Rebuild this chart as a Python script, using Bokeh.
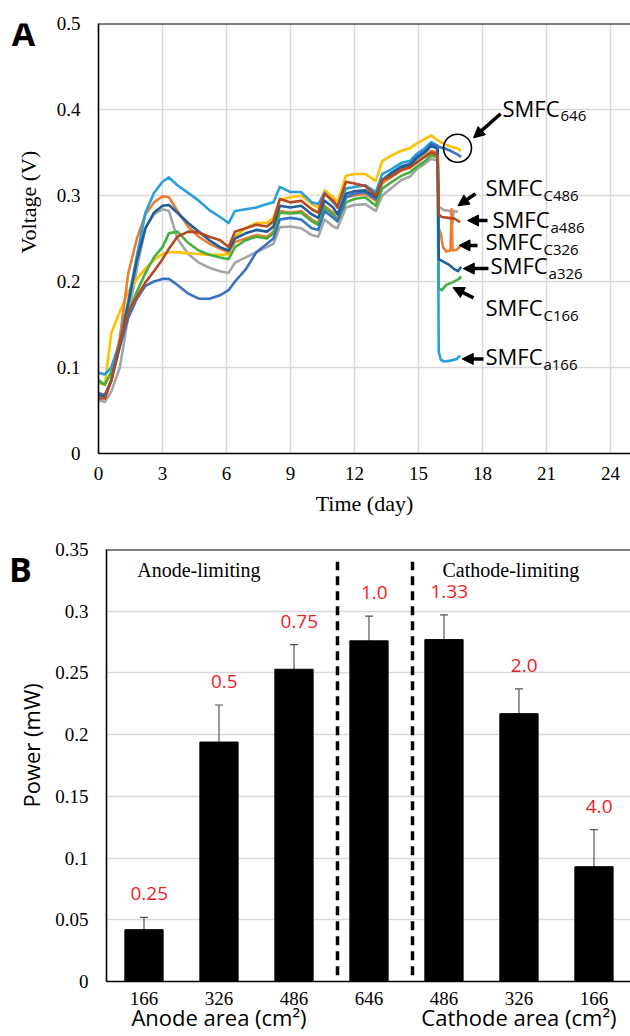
import math
from bokeh.plotting import figure
from bokeh.models import (Label, Arrow, NormalHead, TeeHead, Whisker, ColumnDataSource,
                          FixedTicker, LinearAxis, Span, Range1d, NumeralTickFormatter)
from bokeh.layouts import column, row
from bokeh.core.properties import value
from bokeh.embed import file_html
from bokeh.resources import INLINE

# ---------------- Panel A data (voltage vs time) ----------------
days_main = [0.0, 0.3, 0.6, 1.0, 1.4, 1.8, 2.2, 2.6, 3.0, 3.3, 3.7, 4.2, 4.7, 5.2, 5.7,
             6.1, 6.4, 6.9, 7.4, 7.9, 8.2, 8.5, 9.0, 9.5, 10.0, 10.3, 10.6, 11.0, 11.2, 11.6,
             12.0, 12.5, 13.0, 13.3, 13.7, 14.2, 14.6, 14.9, 15.3, 15.6, 15.9]

v_a166 = [0.094, 0.092, 0.100, 0.130, 0.178, 0.230, 0.280, 0.303, 0.316, 0.321, 0.312, 0.303, 0.294, 0.283, 0.275,
          0.268, 0.282, 0.284, 0.286, 0.290, 0.292, 0.310, 0.304, 0.304, 0.292, 0.290, 0.303, 0.292, 0.288, 0.308,
          0.310, 0.312, 0.304, 0.325, 0.330, 0.338, 0.340, 0.348, 0.355, 0.362, 0.358]
t_a166_days = [15.95, 16.05, 16.2, 16.5, 16.8, 16.95]
t_a166 = [0.118, 0.109, 0.107, 0.108, 0.110, 0.114]

v_c326 = [0.070, 0.068, 0.085, 0.135, 0.210, 0.250, 0.278, 0.292, 0.299, 0.298, 0.282, 0.264, 0.252, 0.244, 0.238,
          0.234, 0.246, 0.250, 0.254, 0.252, 0.258, 0.282, 0.280, 0.282, 0.272, 0.268, 0.288, 0.280, 0.272, 0.298,
          0.300, 0.302, 0.294, 0.314, 0.321, 0.329, 0.332, 0.339, 0.346, 0.352, 0.350]
t_c326_days = [15.95, 16.05, 16.15, 16.3, 16.5, 16.55, 16.6, 16.8, 16.95]
t_c326 = [0.262, 0.255, 0.240, 0.235, 0.236, 0.284, 0.236, 0.237, 0.241]

v_c486 = [0.062, 0.060, 0.072, 0.100, 0.160, 0.215, 0.262, 0.278, 0.284, 0.282, 0.250, 0.232, 0.222, 0.216, 0.212,
          0.210, 0.222, 0.228, 0.234, 0.240, 0.244, 0.263, 0.264, 0.262, 0.254, 0.252, 0.272, 0.264, 0.262, 0.286,
          0.289, 0.290, 0.282, 0.300, 0.308, 0.318, 0.322, 0.330, 0.337, 0.343, 0.340]
t_c486_days = [15.95, 16.2, 16.5, 16.6, 16.65, 16.85]
t_c486 = [0.287, 0.283, 0.282, 0.268, 0.282, 0.281]

v_646_1 = [0.082, 0.080, 0.140, 0.165, 0.188, 0.203, 0.215, 0.225, 0.232, 0.234, 0.234, 0.233, 0.232, 0.231, 0.231,
           0.232, 0.252, 0.262, 0.268, 0.268, 0.274, 0.295, 0.298, 0.300, 0.290, 0.286, 0.306, 0.298, 0.292, 0.323,
           0.325, 0.325, 0.317, 0.340, 0.346, 0.352, 0.355, 0.360, 0.366, 0.370, 0.364]
t_646_1_days = [16.2, 16.5, 16.8, 17.0]
t_646_1 = [0.360, 0.357, 0.355, 0.352]

v_646_2 = [0.070, 0.068, 0.085, 0.125, 0.158, 0.180, 0.195, 0.200, 0.203, 0.203, 0.196, 0.186, 0.180, 0.180, 0.184,
           0.190, 0.200, 0.214, 0.234, 0.244, 0.250, 0.272, 0.274, 0.272, 0.262, 0.260, 0.282, 0.274, 0.270, 0.298,
           0.302, 0.304, 0.296, 0.318, 0.326, 0.334, 0.337, 0.345, 0.352, 0.360, 0.357]
t_646_2_days = [16.2, 16.5, 16.8, 17.0]
t_646_2 = [0.355, 0.352, 0.348, 0.345]

v_c166 = [0.085, 0.080, 0.095, 0.125, 0.163, 0.188, 0.210, 0.228, 0.240, 0.256, 0.258, 0.245, 0.236, 0.231, 0.228,
          0.226, 0.240, 0.248, 0.252, 0.250, 0.256, 0.280, 0.279, 0.280, 0.270, 0.266, 0.286, 0.278, 0.270, 0.292,
          0.296, 0.298, 0.288, 0.308, 0.315, 0.323, 0.327, 0.333, 0.340, 0.347, 0.344]
t_c166_days = [15.95, 16.1, 16.3, 16.6, 16.9, 17.0]
t_c166 = [0.192, 0.190, 0.196, 0.199, 0.203, 0.206]

v_a326 = [0.068, 0.066, 0.085, 0.125, 0.175, 0.225, 0.262, 0.280, 0.288, 0.289, 0.280, 0.268, 0.258, 0.248, 0.240,
          0.236, 0.250, 0.256, 0.260, 0.258, 0.264, 0.288, 0.286, 0.288, 0.278, 0.274, 0.294, 0.286, 0.278, 0.302,
          0.305, 0.306, 0.298, 0.318, 0.325, 0.333, 0.335, 0.343, 0.350, 0.358, 0.354]
t_a326_days = [15.95, 16.1, 16.4, 16.7, 16.85, 17.0]
t_a326 = [0.226, 0.224, 0.220, 0.214, 0.212, 0.217]

v_a486 = [0.064, 0.064, 0.085, 0.130, 0.165, 0.182, 0.199, 0.212, 0.226, 0.238, 0.252, 0.258, 0.257, 0.252, 0.248,
          0.240, 0.258, 0.262, 0.266, 0.264, 0.270, 0.296, 0.292, 0.294, 0.284, 0.280, 0.302, 0.294, 0.286, 0.316,
          0.314, 0.311, 0.300, 0.318, 0.322, 0.330, 0.333, 0.338, 0.345, 0.350, 0.347]
t_a486_days = [15.95, 16.1, 16.4, 16.7, 16.95]
t_a486 = [0.278, 0.275, 0.274, 0.273, 0.269]

series = [
    ("c486", v_c486, t_c486_days, t_c486, "#a5a5a5"),
    ("646_1", v_646_1, t_646_1_days, t_646_1, "#ffc000"),
    ("c326", v_c326, t_c326_days, t_c326, "#ed7d31"),
    ("c166", v_c166, t_c166_days, t_c166, "#45b03f"),
    ("a166", v_a166, t_a166_days, t_a166, "#27a0dc"),
    ("646_2", v_646_2, t_646_2_days, t_646_2, "#3a72c6"),
    ("a326", v_a326, t_a326_days, t_a326, "#1f5f9a"),
    ("a486", v_a486, t_a486_days, t_a486, "#b5491f"),
]

time_ticks = [0, 3, 6, 9, 12, 15, 18, 21, 24]
volt_ticks = [0, 0.1, 0.2, 0.3, 0.4, 0.5]

# ---------------- Panel B data (power) ----------------
area_labels = ["166", "326", "486", "646", "486", "326", "166"]
power = [0.042, 0.194, 0.253, 0.276, 0.277, 0.217, 0.093]
power_err = [0.010, 0.030, 0.020, 0.020, 0.020, 0.020, 0.030]
ratio_labels = ["0.25", "0.5", "0.75", "1.0", "1.33", "2.0", "4.0"]
power_ticks = [0, 0.05, 0.1, 0.15, 0.2, 0.25, 0.3, 0.35]

SERIF = "Liberation Serif"
SANS = "Open Sans"


def style_axis(ax, font, size, standoff):
    ax.axis_line_color = "black"
    ax.axis_line_width = 1.6
    ax.major_tick_line_color = None
    ax.minor_tick_line_color = None
    ax.major_tick_in = 0
    ax.major_tick_out = 0
    ax.major_label_text_font = font
    ax.major_label_text_font_size = size
    ax.major_label_text_color = "black"
    ax.major_label_standoff = standoff


def side_strip(w, h, items):
    """Narrow strip (pixel coordinates) holding the panel letter and the rotated axis title."""
    s = figure(width=w, height=h, x_range=Range1d(0, w), y_range=Range1d(0, h),
               x_axis_location=None, y_axis_location=None, output_backend="svg",
               toolbar_location=None, min_border=0)
    s.outline_line_color = None
    s.grid.grid_line_color = None
    s.background_fill_color = "white"
    s.border_fill_color = "white"
    for txt, x, y, font, size, style, ang in items:
        s.text(x=[x], y=[y], text=[txt], text_font=value(font), text_font_size=size,
               text_font_style=style, angle=ang, text_align="center",
               text_baseline="middle", text_color="black")
    return s


# ================= Panel A =================
pA = figure(width=580, height=520, x_range=Range1d(0, 24.94), y_range=Range1d(0, 0.5),
            output_backend="svg", toolbar_location=None,
            min_border_left=48, min_border_right=0, min_border_top=23, min_border_bottom=67)
pA.outline_line_color = None
pA.background_fill_color = "white"
pA.border_fill_color = "white"

style_axis(pA.xaxis[0], SERIF, "19px", 13)
style_axis(pA.yaxis[0], SERIF, "19px", 18)
pA.xaxis.ticker = FixedTicker(ticks=time_ticks)
pA.yaxis.ticker = FixedTicker(ticks=volt_ticks)
pA.yaxis.formatter = NumeralTickFormatter(format="0.[0]")
pA.xaxis.axis_label = "Time (day)"
pA.xaxis.axis_label_text_font = SERIF
pA.xaxis.axis_label_text_font_size = "22px"
pA.xaxis.axis_label_text_font_style = "normal"
pA.xaxis.axis_label_text_color = "black"
pA.xaxis.axis_label_standoff = 8
pA.xgrid.ticker = FixedTicker(ticks=time_ticks)
pA.ygrid.ticker = FixedTicker(ticks=volt_ticks)
pA.grid.grid_line_color = "#d9d9d9"
pA.grid.grid_line_width = 1.5

pA.add_layout(Span(location=0.5, dimension="width", line_color="black", line_width=2))

for name, vals, tdays, tvals, col in series:
    pA.line(days_main + tdays, vals + tvals, line_color=col, line_width=2.6, line_join="round")

# circle around SMFC646
pA.scatter([16.83], [0.355], marker="circle", size=28, fill_color=None,
           line_color="black", line_width=1.6)

smfc_subs = ["646", "C486", "a486", "C326", "a326", "C166", "a166"]
smfc_pos = [(18.94, 0.402), (18.14, 0.310), (18.47, 0.273), (18.14, 0.247),
            (18.38, 0.219), (18.14, 0.170), (18.14, 0.113)]
arrows = [((18.85, 0.395), (17.58, 0.367)), ((17.67, 0.302), (16.85, 0.288)),
          ((18.24, 0.271), (17.30, 0.271)), ((17.77, 0.242), (16.90, 0.242)),
          ((18.28, 0.215), (17.10, 0.215)), ((17.58, 0.181), (16.62, 0.193)),
          ((18.05, 0.110), (17.05, 0.110))]
for sub, (x, y) in zip(smfc_subs, smfc_pos):
    pA.add_layout(Label(x=x, y=y, text="SMFC", text_font=SANS, text_font_size="22px",
                        text_align="left", text_baseline="middle", text_color="black"))
    pA.add_layout(Label(x=x, y=y, x_offset=58, y_offset=-8, text=sub, text_font=SANS,
                        text_font_size="15px", text_align="left", text_baseline="middle",
                        text_color="black"))
for (xs, ys), (xe, ye) in arrows:
    pA.add_layout(Arrow(end=NormalHead(size=11, fill_color="black", line_color="black", line_width=1),
                        x_start=xs, y_start=ys, x_end=xe, y_end=ye,
                        line_color="black", line_width=3.5))

stripA = side_strip(50, 520, [
    ("A", 23, 508, SANS, "34px", "bold", 0),
    ("Voltage (V)", 28, 304, SERIF, "22px", "normal", math.pi / 2),
])

# ================= Panel B =================
pB = figure(width=580, height=516, x_range=Range1d(-0.5, 6.487), y_range=Range1d(0, 0.35),
            output_backend="svg", toolbar_location=None,
            min_border_left=56, min_border_right=0, min_border_top=29, min_border_bottom=55)
pB.outline_line_color = None
pB.background_fill_color = "white"
pB.border_fill_color = "white"
xpos = list(range(len(power)))

style_axis(pB.xaxis[0], SERIF, "19px", 10)
style_axis(pB.yaxis[0], SERIF, "19px", 18)
pB.xaxis.ticker = FixedTicker(ticks=xpos)
pB.xaxis.major_label_overrides = {i: lab for i, lab in zip(xpos, area_labels)}
pB.yaxis.ticker = FixedTicker(ticks=power_ticks)
pB.yaxis.formatter = NumeralTickFormatter(format="0.[00]")
pB.xgrid.grid_line_color = None
pB.ygrid.ticker = FixedTicker(ticks=power_ticks)
pB.ygrid.grid_line_color = "#d9d9d9"
pB.ygrid.grid_line_width = 1.5

area_axis = LinearAxis(ticker=FixedTicker(ticks=[1, 5]),
                       major_label_overrides={1: "Anode area (cm²)", 5: "Cathode area (cm²)"})
area_axis.axis_line_color = None
area_axis.major_tick_line_color = None
area_axis.minor_tick_line_color = None
area_axis.major_tick_in = 0
area_axis.major_tick_out = 0
area_axis.major_label_standoff = -6
area_axis.major_label_text_font = SANS
area_axis.major_label_text_font_size = "22px"
area_axis.major_label_text_color = "black"
pB.add_layout(area_axis, "below")

pB.add_layout(Span(location=0.35, dimension="width", line_color="black", line_width=2))

pB.vbar(x=xpos, top=power, width=0.51, fill_color="black", line_color="black")

err_src = ColumnDataSource(dict(
    x=xpos,
    upper=[p + e for p, e in zip(power, power_err)],
    lower=[p - e for p, e in zip(power, power_err)],
))
pB.add_layout(Whisker(source=err_src, base="x", upper="upper", lower="lower",
                      line_color="#555555", line_width=1.2,
                      upper_head=TeeHead(size=8, line_color="#555555", line_width=1.2),
                      lower_head=TeeHead(size=8, line_color="#555555", line_width=1.2)))

pB.text(x=[i + 0.07 for i in xpos],
        y=[p + e + 0.019 for p, e in zip(power, power_err)],
        text=ratio_labels, text_font=value(SANS), text_font_size="19px",
        text_color="#ee1c25", text_align="center", text_baseline="middle")

for xd in (2.58, 3.58):
    pB.add_layout(Arrow(end=None, x_start=xd, y_start=-0.007, x_end=xd, y_end=0.34,
                        line_color="black", line_width=3.5, line_dash="9 6"))

pB.add_layout(Label(x=-0.09, y=0.333, text="Anode-limiting", text_font=SERIF,
                    text_font_size="20px", text_align="left", text_baseline="middle",
                    text_color="black"))
pB.add_layout(Label(x=3.98, y=0.333, text="Cathode-limiting", text_font=SERIF,
                    text_font_size="20px", text_align="left", text_baseline="middle",
                    text_color="black"))

stripB = side_strip(50, 516, [
    ("B", 20, 493, SANS, "34px", "bold", 0),
    ("Power (mW)", 30, 282, SANS, "22px", "normal", math.pi / 2),
])

layout = column(row(stripA, pA), row(stripB, pB))
open("out.html", "w").write(file_html(layout, INLINE))
